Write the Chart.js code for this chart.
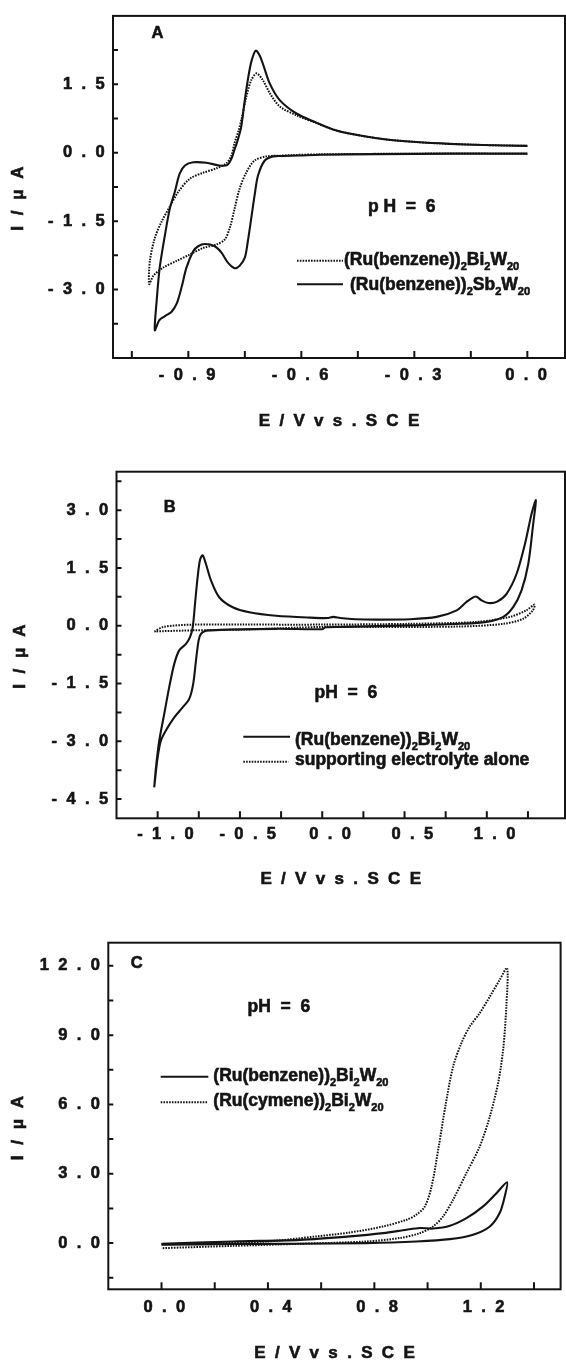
<!DOCTYPE html>
<html>
<head>
<meta charset="utf-8">
<script src="https://cdn.jsdelivr.net/npm/chart.js@4.4.0/dist/chart.umd.min.js"></script>
<style>
    html, body { margin: 0; padding: 0; background: #fff; }
    body { width: 566px; height: 1361px; position: relative; overflow: hidden; }
    canvas { position: absolute; left: 0; display: block; }
</style>
</head>
<body>
<canvas id="chartA" width="566" height="440" style="top:0;width:566px;height:440px"></canvas>
<canvas id="chartB" width="566" height="450" style="top:440px;width:566px;height:450px"></canvas>
<canvas id="chartC" width="566" height="471" style="top:890px;width:566px;height:471px"></canvas>
<script>
// =========================
// DATA - panel A (E in V, I in uA), scan order
// =========================
const aSbE = [0.0, -0.2, -0.4, -0.55, -0.605, -0.65, -0.675, -0.697, -0.715, -0.724, -0.733, -0.742, -0.750, -0.764, -0.777,
    -0.795, -0.812, -0.830, -0.856, -0.874, -0.887, -0.905, -0.918, -0.931, -0.945, -0.962, -0.977, -0.989,
    -0.984, -0.976, -0.962, -0.949, -0.936, -0.923, -0.909, -0.887, -0.852, -0.817, -0.797, -0.786, -0.777, -0.771,
    -0.760, -0.751, -0.741, -0.732, -0.721, -0.710, -0.700, -0.684, -0.658, -0.613, -0.560, -0.516, -0.472,
    -0.384, -0.295, -0.207, -0.119, 0.0];
const aSbI = [-0.02, -0.02, -0.03, -0.045, -0.06, -0.07, -0.08, -0.17, -0.50, -0.93, -1.44, -1.94, -2.30, -2.48, -2.53,
    -2.41, -2.19, -2.05, -2.00, -2.05, -2.16, -2.52, -2.95, -3.31, -3.49, -3.58, -3.67, -3.89,
    -3.24, -2.52, -1.80, -1.22, -0.86, -0.46, -0.28, -0.21, -0.22, -0.28, -0.27, -0.14, 0.08, 0.22,
    0.55, 1.10, 1.65, 2.02, 2.24, 2.12, 1.90, 1.52, 1.16, 0.86, 0.66, 0.51, 0.42,
    0.30, 0.235, 0.195, 0.17, 0.15];

const aBiE = [0.0, -0.3, -0.55, -0.62, -0.657, -0.693, -0.724, -0.746, -0.764, -0.777, -0.790, -0.803, -0.825, -0.861,
    -0.896, -0.931, -0.967, -0.993, -1.004, -1.002, -0.989, -0.971, -0.949, -0.927, -0.896, -0.861, -0.825,
    -0.799, -0.786, -0.777, -0.766, -0.757, -0.746, -0.733, -0.719, -0.702, -0.684, -0.658, -0.613, -0.560,
    -0.516, -0.472, -0.384, -0.295, -0.207, -0.119, 0.0];
const aBiI = [-0.02, -0.02, -0.035, -0.05, -0.065, -0.08, -0.17, -0.43, -0.79, -1.22, -1.65, -1.90, -2.01, -2.09,
    -2.23, -2.37, -2.52, -2.70, -2.88, -2.37, -1.87, -1.51, -1.18, -0.86, -0.57, -0.44, -0.34,
    -0.23, -0.07, 0.22, 0.50, 0.80, 1.23, 1.59, 1.74, 1.59, 1.31, 1.02, 0.82, 0.65,
    0.51, 0.42, 0.30, 0.235, 0.195, 0.17, 0.15];

// =========================
// DATA - panel B
// =========================
const bBiE = [-1.021, -1.010, -0.990, -0.960, -0.930, -0.899, -0.869, -0.828, -0.804, -0.787, -0.771, -0.757, -0.743,
    -0.727, -0.707, -0.676, -0.626, -0.544, -0.443, -0.281, -0.075, 0.030, 0.067, 0.110, 0.200, 0.330, 0.533,
    0.695, 0.817, 0.877, 0.932, 0.968, 1.009, 1.060, 1.120, 1.181, 1.232, 1.272, 1.298,
    1.282, 1.252, 1.211, 1.161, 1.100, 0.999, 0.837, 0.533, 0.128, 0.020, 0.000, -0.277, -0.581, -0.682,
    -0.707, -0.737, -0.751, -0.767, -0.784, -0.808, -0.848, -0.899, -0.950, -0.980, -1.000, -1.021];
const bBiI = [-4.20, -3.67, -2.98, -2.29, -1.60, -0.99, -0.64, -0.47, -0.30, -0.04, 0.66, 1.26, 1.70,
    1.83, 1.61, 1.18, 0.74, 0.48, 0.35, 0.26, 0.21, 0.20, 0.23, 0.20, 0.17, 0.16, 0.17,
    0.23, 0.40, 0.62, 0.76, 0.66, 0.59, 0.62, 0.83, 1.35, 2.13, 2.91, 3.26,
    2.65, 1.61, 0.92, 0.49, 0.23, 0.10, 0.05, 0.01, -0.03, -0.04, -0.09, -0.08, -0.10, -0.12,
    -0.13, -0.21, -0.38, -0.90, -1.51, -1.90, -2.12, -2.38, -2.72, -2.98, -3.42, -4.20];

const bElE = [-1.020, -0.966, -0.783, -0.480, 0.000, 0.533, 0.940, 1.140, 1.240, 1.290,
    1.280, 1.220, 1.100, 0.837, 0.330, 0.000, -0.480, -0.783, -0.966, -1.020];
const bElI = [-0.15, -0.03, 0.03, 0.03, 0.03, 0.05, 0.10, 0.23, 0.40, 0.55,
    0.40, 0.18, 0.05, -0.02, -0.03, -0.03, -0.10, -0.12, -0.14, -0.15];

// =========================
// DATA - panel C
// =========================
const cBzE = [0.000, 0.269, 0.520, 0.708, 0.833, 0.921, 0.971, 1.021, 1.084, 1.146, 1.209, 1.259, 1.299,
    1.290, 1.271, 1.234, 1.171, 1.084, 0.958, 0.770, 0.520, 0.269, 0.000];
const cBzI = [-0.03, 0.07, 0.14, 0.29, 0.43, 0.58, 0.65, 0.63, 0.75, 1.08, 1.59, 2.16, 2.63,
    2.02, 1.30, 0.72, 0.36, 0.17, 0.07, 0.00, -0.03, -0.04, -0.07];

const cCyE = [0.000, 0.144, 0.395, 0.582, 0.708, 0.833, 0.921, 0.958, 0.990, 1.015, 1.042, 1.068, 1.096, 1.127,
    1.159, 1.196, 1.234, 1.271, 1.299, 1.296, 1.284, 1.265, 1.234, 1.196, 1.146, 1.096, 1.058, 1.021,
    0.971, 0.896, 0.770, 0.520, 0.269, 0.000];
const cCyI = [-0.05, -0.03, 0.07, 0.29, 0.46, 0.72, 1.01, 1.23, 1.59, 2.45, 4.18, 6.00, 7.64, 8.65,
    9.38, 9.95, 10.67, 11.39, 11.90, 10.24, 8.37, 6.92, 5.48, 4.18, 3.03, 1.88, 1.15, 0.72,
    0.43, 0.22, 0.07, -0.03, -0.12, -0.22];

// =========================
// TICKS
// =========================
const aMajorX = [-0.9, -0.6, -0.3, 0.0];
const aMinorX = [-1.05, -0.75, -0.45, -0.15];
const aMajorY = [1.5, 0.0, -1.5, -3.0];
const aMinorY = [2.25, 0.75, -0.75, -2.25, -3.75];

const bMajorX = [-1.0, -0.5, 0.0, 0.5, 1.0];
const bMinorX = [-0.75, -0.25, 0.25, 0.75, 1.25];
const bMajorY = [3.0, 1.5, 0.0, -1.5, -3.0, -4.5];
const bMinorY = [3.75, 2.25, 0.75, -0.75, -2.25, -3.75];

const cMajorX = [0.0, 0.4, 0.8, 1.2];
const cMinorX = [0.2, 0.6, 1.0, 1.4];
const cMajorY = [12.0, 9.0, 6.0, 3.0, 0.0];
const cMinorY = [10.5, 7.5, 4.5, 1.5, -1.5];

// legend names, subscripts as {sub}
const nameBenzBi = ["(Ru(benzene))", { sub: "2" }, "Bi", { sub: "2" }, "W", { sub: "20" }];
const nameBenzSb = ["(Ru(benzene))", { sub: "2" }, "Sb", { sub: "2" }, "W", { sub: "20" }];
const nameCymBi = ["(Ru(cymene))", { sub: "2" }, "Bi", { sub: "2" }, "W", { sub: "20" }];
const nameElectrolyte = ["supporting electrolyte alone"];

const FONT = '"Liberation Sans", Arial, Helvetica, sans-serif';
const INK = "#141414";
const DOTS = [1.6, 1.2];
const HEAVY = 0.6;   // faux-heavier stroke on text

// =========================
// HELPERS
// =========================
function tickLabel(v) {
    return v.toFixed(1).split("").join(" ");
}

function lineSet(label, xs, ys, dotted) {
    return {
        label: label,
        data: xs.map((x, i) => ({ x: x, y: ys[i] })),
        showLine: true,
        borderColor: INK,
        borderWidth: dotted ? 2 : 2.1,
        borderDash: dotted ? DOTS : [],
        pointRadius: 0,
        tension: 0.3,
        fill: false
    };
}

function makeScale(axis, min, max, major, minor, fit, pad, offset) {
    return {
        type: "linear",
        min: min,
        max: max,
        grid: { display: false, drawTicks: false },
        border: { display: false },
        afterBuildTicks: (scale) => {
            scale.ticks = major.concat(minor).sort((a, b) => a - b).map(v => ({ value: v }));
        },
        afterFit: (scale) => {
            if (axis === "x") scale.height = fit;
            else scale.width = fit;
        },
        ticks: {
            autoSkip: false,
            maxRotation: 0,
            minRotation: 0,
            padding: pad,
            labelOffset: offset || 0,
            color: INK,
            textStrokeColor: INK,
            textStrokeWidth: HEAVY,
            font: { family: FONT, size: 16.5, weight: "bold" },
            callback: (v) => major.includes(v) ? tickLabel(v) : ""
        }
    };
}

function heavyText(ctx, t, x, y) {
    ctx.fillText(t, x, y);
    ctx.lineWidth = HEAVY;
    ctx.strokeText(t, x, y);
}

function centerText(ctx, text, x, y, size, spacing) {
    ctx.font = "bold " + size + "px " + FONT;
    ctx.letterSpacing = spacing + "px";
    ctx.textAlign = "left";
    ctx.textBaseline = "middle";
    const w = ctx.measureText(text).width;
    heavyText(ctx, text, x - (w - spacing) / 2, y);
}

function legendRow(ctx, row) {
    ctx.save();
    ctx.lineWidth = row.dotted ? 2 : 2.1;
    ctx.setLineDash(row.dotted ? DOTS : []);
    ctx.beginPath();
    ctx.moveTo(row.x1, row.y);
    ctx.lineTo(row.x2, row.y);
    ctx.stroke();
    ctx.restore();

    let x = row.tx;
    ctx.letterSpacing = "0px";
    ctx.textAlign = "left";
    ctx.textBaseline = "alphabetic";
    row.parts.forEach(p => {
        const sub = typeof p !== "string";
        const t = sub ? p.sub : p;
        ctx.font = "bold " + (sub ? 11 : 17.5) + "px " + FONT;
        heavyText(ctx, t, x, row.ty + (sub ? 5 : 0));
        x += ctx.measureText(t).width;
    });
}

// =========================
// FRAME, INWARD TICKS, TEXTS
// =========================
const panelDecor = {
    id: "panelDecor",
    beforeDraw(chart) {
        chart.ctx.letterSpacing = "2.4px";
    },
    afterDraw(chart, args, o) {
        const ctx = chart.ctx;
        const area = chart.chartArea;
        const xs = chart.scales.x;
        const ys = chart.scales.y;

        ctx.save();
        ctx.letterSpacing = "0px";
        ctx.strokeStyle = INK;
        ctx.fillStyle = INK;
        ctx.lineWidth = 2;
        ctx.setLineDash([]);
        ctx.strokeRect(area.left, area.top, area.right - area.left, area.bottom - area.top);

        ctx.beginPath();
        xs.ticks.forEach(t => {
            const p = xs.getPixelForValue(t.value);
            ctx.moveTo(p, area.bottom);
            ctx.lineTo(p, area.bottom - 7);
        });
        ys.ticks.forEach(t => {
            const p = ys.getPixelForValue(t.value);
            ctx.moveTo(area.left, p);
            ctx.lineTo(area.left + 5, p);
        });
        ctx.stroke();

        centerText(ctx, o.letter.text, o.letter.x, o.letter.y, 16.5, 0);
        centerText(ctx, o.ph.text, o.ph.x, o.ph.y, 17.5, 0);
        centerText(ctx, "E / V v s . S C E", o.xTitle.x, o.xTitle.y, 17, 2.3);

        ctx.save();
        ctx.translate(o.yTitle.x, o.yTitle.y);
        ctx.rotate(-Math.PI / 2);
        centerText(ctx, "I / \u03bc A", 0, 0, 17, 3);
        ctx.restore();

        o.legend.forEach(row => legendRow(ctx, row));
        ctx.restore();
    }
};

function buildPanel(id, cfg) {
    return new Chart(document.getElementById(id), {
        type: "scatter",
        data: { datasets: cfg.datasets },
        options: {
            responsive: false,
            animation: false,
            devicePixelRatio: 1,
            layout: { padding: cfg.padding },
            plugins: {
                legend: { display: false },
                tooltip: { enabled: false },
                panelDecor: cfg.decor
            },
            scales: { x: cfg.x, y: cfg.y }
        },
        plugins: [panelDecor]
    });
}

// =========================
// PANEL A
// =========================
buildPanel("chartA", {
    datasets: [
        lineSet("(Ru(benzene))2Bi2W20", aBiE, aBiI, true),
        lineSet("(Ru(benzene))2Sb2W20", aSbE, aSbI, false)
    ],
    padding: { left: 0, top: 12, right: 1, bottom: 0 },
    x: makeScale("x", -1.1, 0.1, aMajorX, aMinorX, 82, 8, 0),
    y: makeScale("y", -4.5, 3.0, aMajorY, aMinorY, 113, 6),
    decor: {
        letter: { text: "A", x: 157.5, y: 33 },
        ph: { text: "p H  =  6", x: 401.7, y: 206.7 },
        xTitle: { x: 339, y: 421.7 },
        yTitle: { x: 18, y: 198.5 },
        legend: [
            { dotted: true, x1: 297, x2: 343, y: 260.7, tx: 344, ty: 265, parts: nameBenzBi },
            { dotted: false, x1: 297, x2: 343, y: 284.3, tx: 350, ty: 290, parts: nameBenzSb }
        ]
    }
});

// =========================
// PANEL B
// =========================
buildPanel("chartB", {
    datasets: [
        lineSet("(Ru(benzene))2Bi2W20", bBiE, bBiI, false),
        lineSet("supporting electrolyte alone", bElE, bElI, true)
    ],
    padding: { left: 0, top: 31.7, right: 1, bottom: 0 },
    x: makeScale("x", -1.25, 1.475, bMajorX, bMinorX, 71.7, 6.3, 9),
    y: makeScale("y", -5.0, 4.0, bMajorY, bMinorY, 116.5, 6),
    decor: {
        letter: { text: "B", x: 169.7, y: 67.5 },
        ph: { text: "pH  =  6", x: 345.8, y: 253.3 },
        xTitle: { x: 340.7, y: 439.5 },
        yTitle: { x: 20.7, y: 216.7 },
        legend: [
            { dotted: false, x1: 243.3, x2: 290, y: 296.7, tx: 295, ty: 304.6, parts: nameBenzBi },
            { dotted: true, x1: 243.3, x2: 288.3, y: 321.7, tx: 295, ty: 324.6, parts: nameElectrolyte }
        ]
    }
});

// =========================
// PANEL C
// =========================
buildPanel("chartC", {
    datasets: [
        lineSet("(Ru(benzene))2Bi2W20", cBzE, cBzI, false),
        lineSet("(Ru(cymene))2Bi2W20", cCyE, cCyI, true)
    ],
    padding: { left: 0, top: 52.7, right: 5.4, bottom: 0 },
    x: makeScale("x", -0.2, 1.5, cMajorX, cMinorX, 71.7, 8.6, 4),
    y: makeScale("y", -2.0, 13.0, cMajorY, cMinorY, 108.3, 6),
    decor: {
        letter: { text: "C", x: 136.7, y: 73.3 },
        ph: { text: "pH  =  6", x: 278.8, y: 116.7 },
        xTitle: { x: 334.5, y: 463 },
        yTitle: { x: 18, y: 238 },
        legend: [
            { dotted: false, x1: 160.7, x2: 208.3, y: 186.7, tx: 213.3, ty: 191.3, parts: nameBenzBi },
            { dotted: true, x1: 160.7, x2: 208.3, y: 212.3, tx: 213.3, ty: 216.3, parts: nameCymBi }
        ]
    }
});
</script>
</body>
</html>
